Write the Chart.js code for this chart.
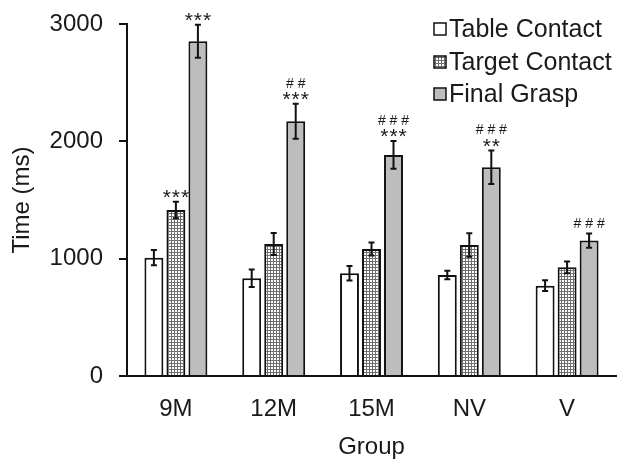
<!DOCTYPE html>
<html>
<head>
<meta charset="utf-8">
<script src="https://cdn.jsdelivr.net/npm/chart.js@4"></script>
<style>
  html, body { margin: 0; padding: 0; background: #fff; }
</style>
</head>
<body>
<canvas id="chart" width="630" height="463"></canvas>
<script>
// data
const groups = ['9M', '12M', '15M', 'NV', 'V'];
const seriesNames = ['Table Contact', 'Target Contact', 'Final Grasp'];
const tableContact = [1008, 833, 875, 861, 770];
const tableErr = [65, 75, 62, 36, 46];
const targetContact = [1415, 1125, 1083, 1117, 926];
const targetErr = [70, 93, 55, 100, 50];
const finalGrasp = [2853, 2171, 1884, 1779, 1154];
const finalErr = [140, 150, 118, 143, 60];
const yTicks = [0, 1000, 2000, 3000];
// significance marks
const targetStars = ['***', '', '', '', ''];
const finalStars = ['***', '***', '***', '**', ''];
const finalHashes = ['', '##', '###', '###', '###'];

const FONT = '"Liberation Sans", Arial, sans-serif';
const INK = '#1a1a1a';

// fine mesh fill for the Target Contact bars
function meshPattern() {
    const c = document.createElement('canvas');
    c.width = 3; c.height = 3;
    const g = c.getContext('2d');
    g.fillStyle = '#ffffff';
    g.fillRect(0, 0, 3, 3);
    g.fillStyle = '#6e6e6e';
    g.fillRect(0, 0, 3, 1);
    g.fillRect(0, 0, 1, 3);
    return g.createPattern(c, 'repeat');
}
const mesh = meshPattern();
const fills = ['#ffffff', mesh, '#bdbdbd'];
const errors = [tableErr, targetErr, finalErr];

// error bars + significance labels + legend
const extrasPlugin = {
    id: 'extras',
    afterDatasetsDraw(chart) {
        const ctx = chart.ctx;
        const y = chart.scales.y;
        ctx.save();
        ctx.strokeStyle = '#111';
        ctx.lineWidth = 2;
        chart.data.datasets.forEach((ds, di) => {
            const meta = chart.getDatasetMeta(di);
            meta.data.forEach((bar, i) => {
                const v = ds.data[i];
                const e = errors[di][i];
                const top = y.getPixelForValue(v + e);
                const bot = y.getPixelForValue(v - e);
                ctx.beginPath();
                ctx.moveTo(bar.x, top); ctx.lineTo(bar.x, bot);
                ctx.moveTo(bar.x - 3, top); ctx.lineTo(bar.x + 3, top);
                ctx.moveTo(bar.x - 3, bot); ctx.lineTo(bar.x + 3, bot);
                ctx.stroke();
            });
        });

        ctx.fillStyle = INK;
        ctx.textAlign = 'center';
        ctx.textBaseline = 'middle';
        const label = (di, i, stars, hashes) => {
            const bar = chart.getDatasetMeta(di).data[i];
            const ds = chart.data.datasets[di];
            const top = y.getPixelForValue(ds.data[i] + errors[di][i]);
            let off = 9;
            if (stars) {
                ctx.font = '21px ' + FONT;
                ctx.letterSpacing = '1px';
                ctx.fillText(stars, bar.x + 0.5, top - 8 + 4.5);
                ctx.letterSpacing = '0px';
                off = 20;
            }
            if (hashes) {
                ctx.font = '14px ' + FONT;
                ctx.fillText(hashes.split('').join(' '), bar.x, top - off);
            }
        };
        groups.forEach((g, i) => {
            if (targetStars[i]) label(1, i, targetStars[i], '');
            if (finalStars[i] || finalHashes[i]) label(2, i, finalStars[i], finalHashes[i]);
        });

        // legend
        const lx = 434, ly = [29, 62, 94];
        ctx.textAlign = 'left';
        ctx.font = '25px ' + FONT;
        seriesNames.forEach((name, k) => {
            ctx.fillStyle = fills[k];
            ctx.fillRect(lx, ly[k] - 6, 12, 12);
            ctx.lineWidth = 1.5;
            ctx.strokeStyle = '#111';
            ctx.strokeRect(lx, ly[k] - 6, 12, 12);
            ctx.fillStyle = INK;
            ctx.fillText(name, lx + 15, ly[k] + 1);
        });
        ctx.restore();
    }
};

const makeSet = (k, data) => ({
    label: seriesNames[k],
    data: data,
    backgroundColor: fills[k],
    borderColor: '#111',
    borderWidth: 2,
    barPercentage: 0.86,
    categoryPercentage: 0.675
});

new Chart(document.getElementById('chart'), {
    type: 'bar',
    data: {
        labels: groups,
        datasets: [
            makeSet(0, tableContact),
            makeSet(1, targetContact),
            makeSet(2, finalGrasp)
        ]
    },
    options: {
        responsive: false,
        animation: false,
        layout: { padding: { left: 0, right: 14, top: 24, bottom: 0 } },
        plugins: {
            legend: { display: false },
            tooltip: { enabled: false }
        },
        scales: {
            x: {
                grid: { display: false, drawTicks: false },
                border: { color: '#111', width: 2 },
                ticks: { color: INK, font: { family: FONT, size: 24 }, padding: 19 },
                title: {
                    display: true, text: 'Group', color: INK,
                    font: { family: FONT, size: 24 }, padding: { top: 0, bottom: 1 }
                },
                afterFit(s) { s.height = 87; }
            },
            y: {
                min: 0,
                max: 3000,
                afterBuildTicks(s) { s.ticks = yTicks.map(v => ({ value: v })); },
                grid: { drawOnChartArea: false, drawTicks: true, tickLength: 8, color: '#111', lineWidth: 2 },
                border: { color: '#111', width: 2 },
                ticks: {
                    color: INK, font: { family: FONT, size: 24, lineHeight: 0.4 }, padding: 16,
                    callback: v => String(v)
                },
                title: {
                    display: true, text: 'Time (ms)', color: INK,
                    font: { family: FONT, size: 24 }, padding: { top: 8, bottom: 0 }
                },
                afterFit(s) { s.width = 127; }
            }
        }
    },
    plugins: [extrasPlugin]
});
</script>
</body>
</html>
